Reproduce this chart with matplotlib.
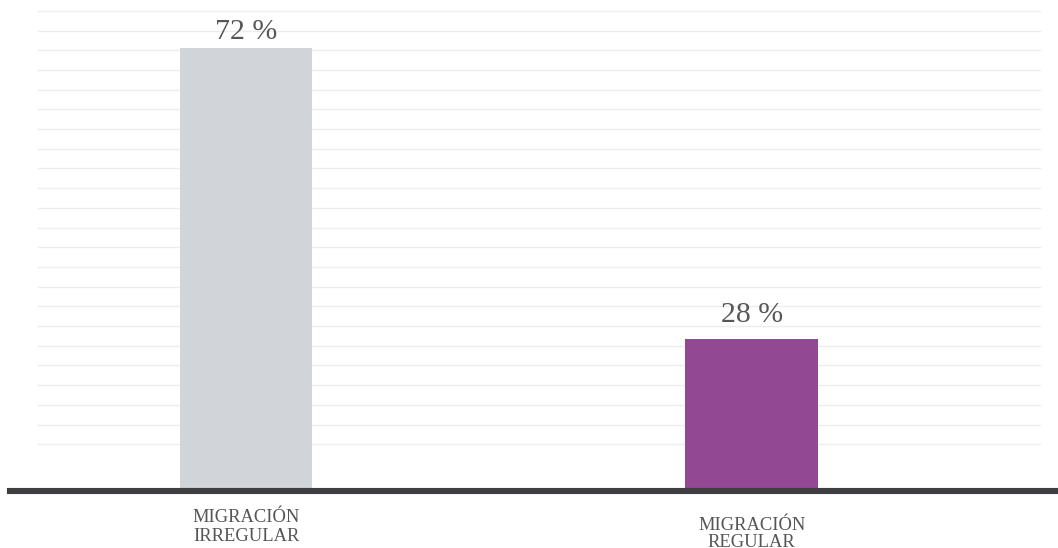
import numpy as np
import matplotlib
matplotlib.use("Agg")
import matplotlib.pyplot as plt

# Data
categories = ["MIGRACIÓN\nIRREGULAR", "MIGRACIÓN\nREGULAR"]
values = [72, 28]
value_labels = ["72 %", "28 %"]
colors = ["#d1d4d9", "#934894"]

W, H = 1058, 548
fig = plt.figure(figsize=(W / 100, H / 100), dpi=100)
fig.patch.set_facecolor("white")

# axes spans from x=10 to right edge, from baseline (y=491 px) to top
ax = fig.add_axes([10 / W, (H - 491) / H, 1 - 10 / W, 491 / H])
ax.set_facecolor("white")

x = np.arange(len(values))
ax.set_xlim(-0.467, 1.606)
ax.set_ylim(5.0, 79.3)

# faint horizontal background grid
for gy in np.linspace(12.07, 77.65, 23):
    ax.axhline(gy, xmin=28 / 1048, xmax=1030 / 1048, color="#ededed", lw=1.0, zorder=0)

bars = ax.bar(x, values, width=0.262, color=colors, zorder=2)

# thick baseline
ax.axhline(5.0, color="#3e3e41", lw=4.4, zorder=3, clip_on=False)

serif = ["Liberation Serif", "DejaVu Serif"]

label_offsets = [6.8, 12.0]
for xi, v, lab, off in zip(x, values, value_labels, label_offsets):
    ax.annotate(lab, xy=(xi, v), xytext=(0, off), textcoords="offset points",
                ha="center", va="baseline", fontsize=21.5, color="#575757",
                family=serif)

cat_offsets = [-13.2, -18.5]
cat_spacing = [1.12, 1.0]
for xi, cat, off, ls in zip(x, categories, cat_offsets, cat_spacing):
    ax.annotate(cat, xy=(xi, 0), xycoords=ax.get_xaxis_transform(),
                xytext=(0, off), textcoords="offset points",
                ha="center", va="top", fontsize=13.3, color="#555555",
                family=serif, linespacing=ls, annotation_clip=False)

ax.set_xticks([])
ax.set_yticks([])
for s in ax.spines.values():
    s.set_visible(False)

fig.savefig("out.png", dpi=100, facecolor="white")
